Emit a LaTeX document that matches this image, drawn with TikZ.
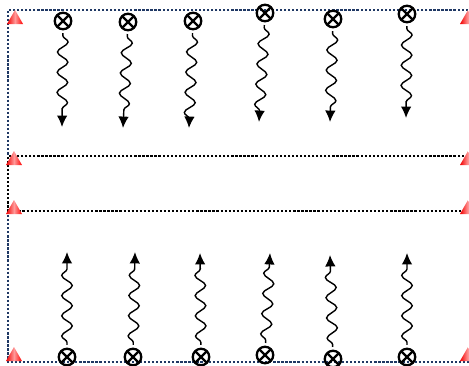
\documentclass[tikz,border=0pt]{standalone}
\usepackage{tikz}
\usetikzlibrary{decorations.pathmorphing,arrows.meta}
\definecolor{framecol}{RGB}{31,56,100}

\begin{document}
\begin{tikzpicture}[x=0.02cm,y=-0.02cm,
  xnode/.style={circle,draw,line width=1.3pt,minimum size=0.33cm,inner sep=0pt,
    path picture={\draw[line width=1.3pt]
      (path picture bounding box.north west) -- (path picture bounding box.south east)
      (path picture bounding box.north east) -- (path picture bounding box.south west);}},
  wave/.style={-{Latex[length=6.5pt,width=6pt]},line width=0.8pt,shorten <=1.5pt,
    decorate,decoration={snake,amplitude=3pt,segment length=11.5pt,pre length=3pt,post length=5pt}},
  frameline/.style={framecol,line width=1.3pt,densely dotted},
  midline/.style={black,line width=1.3pt,densely dotted}]
  \useasboundingbox (0,0) rectangle (469,365);
  \clip (0,0) rectangle (469,365);
  % frame: blue outside, black between the two middle lines
  \draw[frameline] (480,10) -- (8,10) -- (8,156);
  \draw[frameline] (8,211) -- (8,362) -- (480,362);
  \draw[midline] (480,156) -- (8,156) -- (8,211) -- (480,211);
  % red cones at both ends of each line
  \foreach \x/\y in {15/24, 14/165, 14/214, 14/361, 468/24, 468/165, 468/214, 468/361} {
    \shade[left color=red!95!black, right color=red, middle color=red!40]
      (\x-8,\y) -- (\x,\y-14) -- (\x+8,\y) -- cycle;
  }
  % top row: crossed circles with waves going down
  \foreach \i/\x/\y/\ex/\ey in {
    1/63/21/62/127,
    2/128/22/123/128,
    3/193/21/189/128,
    4/265/13/259/122,
    5/333/19/330/122,
    6/407/14/406/118} {
    \node[xnode] (t\i) at (\x,\y) {};
    \coordinate (te\i) at (\ex,\ey);
    \draw[wave] (t\i) -- (te\i);
  }
  % bottom row: crossed circles with waves going up
  \foreach \i/\x/\y/\ex/\ey in {
    1/67/357/67/252,
    2/133/357/135/252,
    3/201/357/200/253,
    4/265/355/270/253,
    5/333/359/330/255,
    6/407/357/407/253} {
    \node[xnode] (b\i) at (\x,\y) {};
    \coordinate (be\i) at (\ex,\ey);
    \draw[wave] (b\i) -- (be\i);
  }
\end{tikzpicture}
\end{document}
